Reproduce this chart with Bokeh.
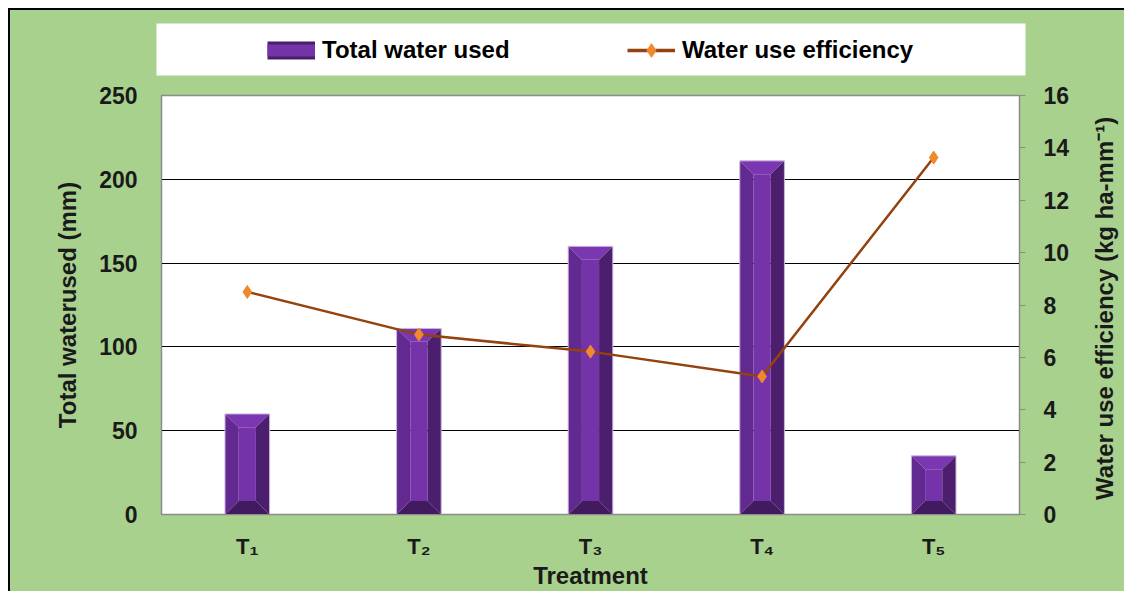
import math
from bokeh.plotting import figure
from bokeh.layouts import column, row
from bokeh.models import (Range1d, LinearAxis, FixedTicker, Legend, LegendItem)
from bokeh.embed import file_html
from bokeh.resources import INLINE

# ---- data ----
treatments = ["T\u2081", "T\u2082", "T\u2083", "T\u2084", "T\u2085"]
water_used = [60, 111, 160, 211, 35]          # mm (left axis)
wue = [8.5, 6.87, 6.22, 5.27, 13.63]          # kg ha-mm-1 (right axis)
left_ticks = [0, 50, 100, 150, 200, 250]
right_ticks = [0, 2, 4, 6, 8, 10, 12, 14, 16]
grid_ticks = [50, 100, 150, 200]
left_label = "Total waterused (mm)"
right_label = "Water use efficiency  (kg ha-mm\u207b\u00b9)"
x_label = "Treatment"
series_names = ["Total water used", "Water use efficiency"]

FONT = "Liberation Sans"
GREEN = "#A9D18E"
TXT = "#1A1A1A"
LINE_C = "#94420E"
MARK_C = "#F2882E"

xs = list(range(1, len(treatments) + 1))
bw = 0.26      # bar width (category units)
bx = 0.08      # bevel width (category units)
by = 8.0       # bevel height (mm units)

# ================= main chart =================
p = figure(width=1062, height=508, output_backend="svg", toolbar_location=None,
           x_range=Range1d(0.5, len(xs) + 0.5), y_range=Range1d(0, 250),
           min_border_left=151, min_border_right=53, min_border_top=12,
           min_border_bottom=77)
p.background_fill_color = "white"
p.border_fill_color = GREEN
p.outline_line_color = "#8C8C8C"
p.outline_line_width = 1.5
p.extra_y_ranges = {"wue": Range1d(0, 16)}

# ---- bevelled bars ----
x0 = [x - bw / 2 for x in xs]
x1 = [x + bw / 2 for x in xs]
top = water_used
bot = [0] * len(xs)

p.quad(left=[a + bx for a in x0], right=[b - bx for b in x1],
       top=[t - by for t in top], bottom=[by for _ in top],
       fill_color="#7533AA", line_color=None)
p.patches([[a, b, b - bx, a + bx] for a, b in zip(x0, x1)],
          [[t, t, t - by, t - by] for t in top],
          fill_color="#7B37B2", line_color=None)
p.patches([[a, a + bx, a + bx, a] for a in x0],
          [[t, t - by, by, 0] for t in top],
          fill_color="#622A90", line_color=None)
p.patches([[b, b - bx, b - bx, b] for b in x1],
          [[t, t - by, by, 0] for t in top],
          fill_color="#4B1E6E", line_color=None)
p.patches([[a, b, b - bx, a + bx] for a, b in zip(x0, x1)],
          [[0, 0, by, by] for _ in top],
          fill_color="#421A60", line_color=None)
p.quad(left=x0, right=x1, top=top, bottom=bot, fill_alpha=0,
       line_color="#C9B6DC", line_width=1)

# ---- line on secondary axis ----
p.line(xs, wue, y_range_name="wue", line_color=LINE_C, line_width=2.5)
p.scatter(xs, wue, y_range_name="wue", marker="diamond", size=13,
          fill_color=MARK_C, line_color=MARK_C)

# ---- axes ----
yl = p.yaxis[0]
yl.ticker = FixedTicker(ticks=left_ticks)
yl.axis_label = left_label
yr = LinearAxis(y_range_name="wue", ticker=FixedTicker(ticks=right_ticks))
p.add_layout(yr, "right")

for ax in (yl, yr):
    ax.major_label_text_font = FONT
    ax.major_label_text_font_style = "bold"
    ax.major_label_text_font_size = "23px"
    ax.major_label_text_color = TXT
    ax.axis_label_text_font = FONT
    ax.axis_label_text_font_style = "bold"
    ax.axis_label_text_font_size = "24px"
    ax.axis_label_text_color = TXT
    ax.minor_tick_line_color = None
    ax.axis_line_color = "#8C8C8C"
    ax.major_tick_line_color = "#8C8C8C"

yl.major_tick_out = 0
yl.major_tick_in = 0
yl.major_label_standoff = 24
yl.axis_label_standoff = 15
yr.major_tick_out = 6
yr.major_tick_in = 0
yr.major_label_standoff = 18

xa = p.xaxis[0]
xa.ticker = FixedTicker(ticks=xs)
xa.major_label_overrides = {x: t for x, t in zip(xs, treatments)}
xa.axis_label = x_label
xa.major_label_text_font = FONT
xa.major_label_text_font_style = "bold"
xa.major_label_text_font_size = "22px"
xa.major_label_text_color = TXT
xa.axis_label_text_font = FONT
xa.axis_label_text_font_style = "bold"
xa.axis_label_text_font_size = "24px"
xa.axis_label_text_color = TXT
xa.major_tick_line_color = None
xa.minor_tick_line_color = None
xa.axis_line_color = "#8C8C8C"
xa.major_label_standoff = 13
xa.axis_label_standoff = 0

p.xgrid.grid_line_color = None
p.ygrid.ticker = FixedTicker(ticks=grid_ticks)
p.ygrid.grid_line_color = "black"
p.ygrid.grid_line_width = 1

# ================= right axis title strip =================
rl = figure(width=52, height=508, output_backend="svg", toolbar_location=None,
            x_range=Range1d(0, 1), y_range=Range1d(0, 1),
            x_axis_location=None, y_axis_location="left",
            min_border_left=51, min_border_right=0, min_border_top=12,
            min_border_bottom=77)
rl.background_fill_color = GREEN
rl.border_fill_color = GREEN
rl.outline_line_color = None
rl.grid.visible = False
ra = rl.yaxis[0]
ra.ticker = FixedTicker(ticks=[])
ra.axis_line_color = None
ra.major_tick_line_color = None
ra.minor_tick_line_color = None
ra.major_label_standoff = 0
ra.major_tick_out = 0
ra.axis_label = right_label
ra.axis_label_text_font = FONT
ra.axis_label_text_font_style = "bold"
ra.axis_label_text_font_size = "24px"
ra.axis_label_text_color = TXT
ra.axis_label_standoff = 6

# ================= legend strip =================
lg = figure(width=1114, height=73, output_backend="svg", toolbar_location=None,
            x_range=Range1d(0, 1), y_range=Range1d(0, 1),
            x_axis_location=None, y_axis_location=None,
            min_border_left=146, min_border_right=99, min_border_top=13,
            min_border_bottom=8)
lg.background_fill_color = "white"
lg.border_fill_color = GREEN
lg.outline_line_color = None
lg.grid.visible = False

# proxy glyphs (placed outside the visible range) that only feed the legend
bar_edge = lg.line(x=[-3, -2], y=[-3, -3], line_color="#48206A", line_width=18,
                   line_cap="butt")
bar_face = lg.line(x=[-3, -2], y=[-3, -3], line_color="#7533AA", line_width=12,
                   line_cap="butt")
line_proxy = lg.line(x=[-3, -2], y=[-3, -3], line_color=LINE_C, line_width=3.5)
mark_proxy = lg.scatter(x=[-3], y=[-3], marker="diamond", size=16,
                        fill_color=MARK_C, line_color=MARK_C)

legend = Legend(items=[LegendItem(label=series_names[0], renderers=[bar_edge, bar_face]),
                       LegendItem(label=series_names[1],
                                  renderers=[line_proxy, mark_proxy])],
                orientation="horizontal", location=(111, 8),
                background_fill_alpha=0, border_line_color=None,
                padding=0, margin=0, spacing=0,
                glyph_width=48, glyph_height=34, label_standoff=7, label_width=305,
                label_text_font=FONT, label_text_font_style="bold",
                label_text_font_size="24px", label_text_color="black")
lg.add_layout(legend, "center")

bottom = row(p, rl, spacing=0)
bottom.styles = {"background-color": GREEN}
layout = column(lg, bottom, spacing=0)
layout.styles = {"margin-left": "8px", "margin-top": "8px",
                 "background-color": GREEN,
                 "border-top": "2px solid black", "border-left": "2px solid black"}

open("out.html", "w").write(file_html(layout, INLINE))
